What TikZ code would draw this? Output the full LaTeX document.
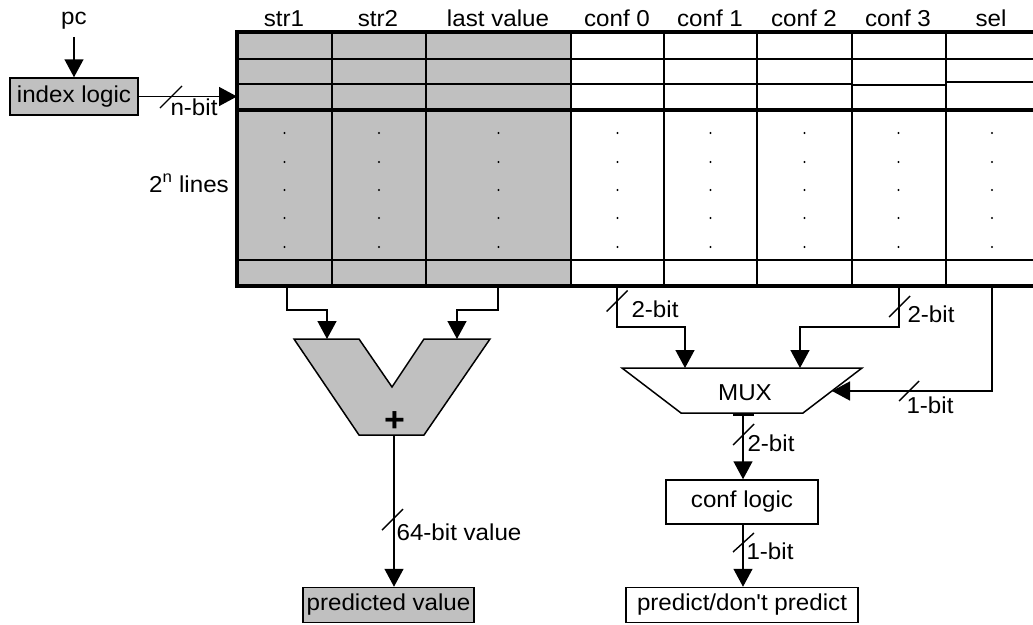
\documentclass[tikz,border=0pt]{standalone}
\usepackage{fontspec}
\setmainfont{Liberation Sans}[FakeStretch=1.05]
\newfontfamily\plainfont{Liberation Sans}[FakeStretch=1.05]
\usetikzlibrary{arrows.meta}
\definecolor{cellgray}{RGB}{192,192,192}
\newcommand\lblfont{\fontsize{23}{27}\selectfont}
\begin{document}
\begin{tikzpicture}[x=1pt,y=-1pt,
  lbl/.style={font=\lblfont, inner sep=0pt},
  box/.style={draw, line width=1.5pt, inner sep=0pt, font=\lblfont},
  wire/.style={line width=1.5pt},
  arr/.style={wire, -{Triangle[length=18pt,width=19pt]}},
  slash/.style={line width=1.4pt},
  thin/.style={line width=1.5pt},
  thick/.style={line width=3.5pt}
]
\useasboundingbox (0,0) rectangle (1033,624);

% ---- table ----
\fill[cellgray] (237,32) rectangle (571,286);
\foreach \x in {332,426,571,664,757,852,946}
  \draw[thin] (\x,32) -- (\x,286);
\draw[thin] (237,59) -- (1033,59);
\draw[thin] (237,84) -- (852,84);
\draw[thin] (852,85) -- (946,85);
\draw[thin] (946,82) -- (1033,82);
\draw[thin] (237,260) -- (1033,260);
\draw[thick] (1033,32) -- (237,32) -- (237,286) -- (1033,286);
\draw[thick] (237,110) -- (1033,110);
\foreach \x in {284.5,379,498.5,617.5,710.5,804.5,898.5,992}
  \foreach \y in {133,162,190,218,247}
    \fill (\x,\y) circle[radius=1.2pt];

% ---- headers ----
\node[lbl, anchor=base] (hstr1) at (284,26) {str1};
\node[lbl, anchor=base] (hstr2) at (378,26) {str2};
\node[lbl, anchor=base] (hlast) at (498,26) {last value};
\node[lbl, anchor=base] (hc0) at (617,26) {conf 0};
\node[lbl, anchor=base] (hc1) at (710,26) {conf 1};
\node[lbl, anchor=base] (hc2) at (804,26) {conf 2};
\node[lbl, anchor=base] (hc3) at (898,26) {conf 3};
\node[lbl, anchor=base] (hsel) at (991,26) {sel};
\node[lbl, anchor=base east] (lines) at (229,192) {2\textsuperscript{n} lines};

% ---- index logic ----
\node[lbl, anchor=base] (pc) at (74,24) {pc};
\node[box, fill=cellgray, minimum width=128pt, minimum height=37pt] (idx) at (74,96.5) {index logic};
\coordinate (tin) at (237,96.5);
\draw[arr, shorten <=8pt] (pc.south) -- (idx.north);
\draw[arr] (idx.east) -- (tin);
\draw[slash] (160,108) -- (182,86);
\node[lbl] (nbit) at (194,107) {n-bit};

% ---- adder ----
\filldraw[fill=cellgray, line width=1.5pt] (294,339) -- (359,339) -- (392,387) -- (424,339)
  -- (490,339) -- (424,435) -- (359,435) -- cycle;
\node[font=\bfseries\fontsize{34}{34}\selectfont, inner sep=0pt] (plus) at (394.5,422) {+};
\coordinate (s1b) at (287,286);
\coordinate (lvb) at (498,286);
\coordinate (addL) at (327,339);
\coordinate (addR) at (457,339);
\coordinate (addO) at (394,435);
\draw[arr] (s1b) -- ++(0,24) -| (addL);
\draw[arr] (lvb) -- ++(0,24) -| (addR);
\node[box, fill=cellgray, minimum width=171pt, minimum height=35pt] (pv) at (388.5,605) {predicted value};
\draw[arr] (addO) -- (addO |- pv.north);
\draw[slash] (382,530) -- (403,509);
\node[lbl] (b64) at (459,532) {64-bit value};

% ---- MUX ----
\draw[line width=1.5pt] (622,368) -- (862,368) -- (803,413) -- (681,413) -- cycle;
\node[lbl] (mux) at (745,393) {MUX};
\coordinate (c0b) at (617,286);
\coordinate (c3b) at (899,286);
\coordinate (selb) at (992,286);
\coordinate (m1) at (685,368);
\coordinate (m2) at (800,368);
\coordinate (m3) at (832,391);
\coordinate (mo) at (743,413);
\draw[arr] (c0b) -- ++(0,41) -| (m1);
\draw[arr] (c3b) -- ++(0,41) -| (m2);
\draw[arr] (selb) |- (m3);
\draw[slash] (606.5,311.5) -- (627.5,290.5);
\node[lbl] (l2a) at (655,309) {2-bit};
\draw[slash] (889,317) -- (910,296);
\node[lbl] (l2b) at (931,314) {2-bit};
\draw[slash] (899,401) -- (919,381);
\node[lbl] (l1a) at (930,405) {1-bit};
\draw[line width=3pt] (733,414) -- (754,414);

% ---- conf logic ----
\node[box, minimum width=152pt, minimum height=44pt] (cl) at (742,502) {conf logic};
\node[box, minimum width=232pt, minimum height=35pt] (pd) at (742,605) {predict/don{\plainfont '}t predict};
\draw[arr] (mo) -- (mo |- cl.north);
\draw[slash] (733,445) -- (754,424);
\node[lbl] (l2c) at (771,443) {2-bit};
\draw[arr] (cl.south -| mo) -- (mo |- pd.north);
\draw[slash] (733,552) -- (754,533);
\node[lbl] (l1b) at (770,551) {1-bit};
\end{tikzpicture}
\end{document}
